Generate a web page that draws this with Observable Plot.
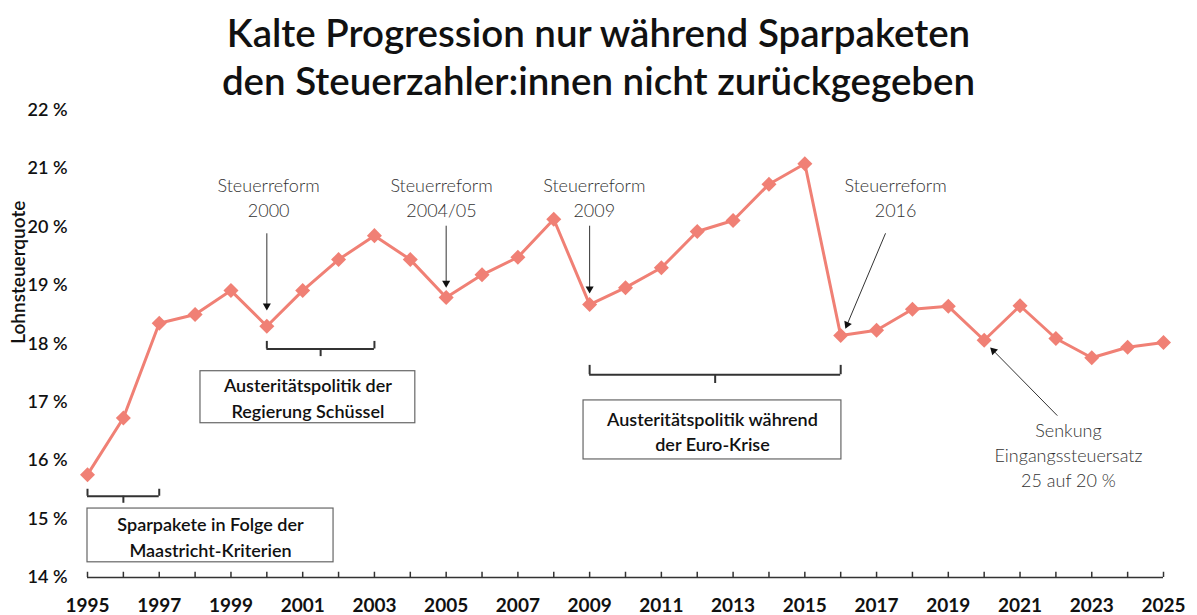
<!DOCTYPE html>
<html><head><meta charset="utf-8">
<script src="https://cdn.jsdelivr.net/npm/d3@7"></script>
<script src="https://cdn.jsdelivr.net/npm/@observablehq/plot@0.6"></script>
<style>
body{margin:0;background:#fff;font-family:Lato,sans-serif;}
#title{height:88px;text-align:center;font-size:38.5px;font-weight:600;line-height:48px;padding-top:8px;box-sizing:border-box;color:#111;overflow:visible;white-space:nowrap;}
#chart{height:527px;}
</style></head><body>
<div id="title">Kalte Progression nur während Sparpaketen<br>den Steuerzahler:innen nicht zurückgegeben</div>
<div id="chart"></div>
<script>
const years = [1995,1996,1997,1998,1999,2000,2001,2002,2003,2004,2005,2006,2007,2008,2009,2010,2011,2012,2013,2014,2015,2016,2017,2018,2019,2020,2021,2022,2023,2024,2025];
const quote = [15.76,16.73,18.35,18.50,18.91,18.30,18.91,19.44,19.85,19.44,18.79,19.18,19.48,20.13,18.67,18.96,19.30,19.92,20.11,20.73,21.08,18.14,18.23,18.59,18.64,18.06,18.65,18.09,17.76,17.94,18.02];
const xTickLabels = [1995,1997,1999,2001,2003,2005,2007,2009,2011,2013,2015,2017,2019,2021,2023,2025];
const yTicks = [14,15,16,17,18,19,20,21,22];
const yLabel = "Lohnsteuerquote";

// annotation texts with anchor coordinates (year, percent)
const notes = [
  {text: "Steuerreform\n2000", x: 2000.05, y: 20.52},
  {text: "Steuerreform\n2004/05", x: 2004.87, y: 20.52},
  {text: "Steuerreform\n2009", x: 2009.13, y: 20.52},
  {text: "Steuerreform\n2016", x: 2017.53, y: 20.52},
  {text: "Senkung\nEingangssteuersatz\n25 auf 20 %", x: 2022.35, y: 16.11}
];
const arrows = [
  {x1: 2000, y1: 19.89, x2: 2000, y2: 18.65, angle: 180},
  {x1: 2005, y1: 20.02, x2: 2005, y2: 19.04, angle: 180},
  {x1: 2009, y1: 20.02, x2: 2009, y2: 18.94, angle: 180},
  {x1: 2017.25, y1: 19.89, x2: 2016.18, y2: 18.33, angle: 203},
  {x1: 2022.04, y1: 16.77, x2: 2020.26, y2: 17.88, angle: 315}
];
const brackets = [
  {x1: 1995, x2: 1997, y: 15.39, up: 15.51, down: 15.27},
  {x1: 2000, x2: 2003, y: 17.91, up: 18.04, down: 17.78},
  {x1: 2009, x2: 2016, y: 17.47, up: 17.63, down: 17.32}
];
const boxes = [
  {text: "Sparpakete in Folge der\nMaastricht-Kriterien", x1: 1995, x2: 2001.86, y1: 14.26, y2: 15.18, ty: 14.71},
  {text: "Austeritätspolitik der\nRegierung Schüssel", x1: 1998.15, x2: 2004.14, y1: 16.64, y2: 17.53, ty: 17.09},
  {text: "Austeritätspolitik während\nder Euro-Krise", x1: 2008.83, x2: 2016.02, y1: 16.02, y2: 17.03, ty: 16.51}
];

const data = years.map((y, i) => ({year: y, value: quote[i]}));
const lineColor = "#f08075";

const chart = Plot.plot({
  width: 1197,
  height: 527,
  marginLeft: 87,
  marginRight: 34,
  marginTop: 21.5,
  marginBottom: 38,
  style: {fontFamily: "Lato, sans-serif", background: "#fff"},
  x: {domain: [1995, 2025]},
  y: {domain: [14, 22]},
  marks: [
    // brackets
    Plot.ruleY(brackets, {x1: "x1", x2: "x2", y: "y", stroke: "#333", strokeWidth: 2}),
    Plot.ruleX(brackets, {x: "x1", y1: "y", y2: "up", stroke: "#333", strokeWidth: 2}),
    Plot.ruleX(brackets, {x: "x2", y1: "y", y2: "up", stroke: "#333", strokeWidth: 2}),
    Plot.ruleX(brackets, {x: d => (d.x1 + d.x2) / 2, y1: "y", y2: "down", stroke: "#333", strokeWidth: 2}),
    // boxes
    Plot.rect(boxes, {x1: "x1", x2: "x2", y1: "y1", y2: "y2", fill: "#fff", stroke: "#666", strokeWidth: 1.2}),
    Plot.text(boxes, {x: d => (d.x1 + d.x2) / 2, y: "ty", text: "text", fontSize: 18, fontWeight: 600, fill: "#111", lineHeight: 1.4, lineAnchor: "middle"}),
    // x axis baseline and yearly ticks
    Plot.ruleY([14], {stroke: "#333", strokeWidth: 1.5}),
    Plot.ruleX(years, {x: d => d, y1: 14, y2: 14.09, stroke: "#333", strokeWidth: 1.5}),
    // series
    Plot.line(data, {x: "year", y: "value", stroke: lineColor, strokeWidth: 3}),
    Plot.dot(data, {x: "year", y: "value", symbol: "square", rotate: 45, r: 6, fill: lineColor}),
    // arrows
    Plot.link(arrows, {x1: "x1", y1: "y1", x2: "x2", y2: "y2", stroke: "#333", strokeWidth: 1}),
    Plot.dot(arrows, {x: "x2", y: "y2", symbol: "triangle", rotate: "angle", r: 3, fill: "#111"}),
    // notes
    Plot.text(notes, {x: "x", y: "y", text: "text", fontSize: 18, fontWeight: 300, fill: "#333", lineHeight: 1.39, lineAnchor: "middle"}),
    // axes
    Plot.axisY({ticks: yTicks, tickSize: 0, tickPadding: 20, tickFormat: d => d + " %", fontSize: 18, fontWeight: 600, fill: "#111", label: null}),
    Plot.axisX({ticks: xTickLabels, tickSize: 0, tickPadding: 21, tickFormat: d => String(d), fontSize: 19, fontWeight: 700, fill: "#111", label: null}),
    Plot.text([yLabel], {frameAnchor: "left", rotate: -90, dx: -69, fontSize: 19, fontWeight: 600, fill: "#111"})
  ]
});
document.getElementById("chart").appendChild(chart);
</script>
</body></html>
